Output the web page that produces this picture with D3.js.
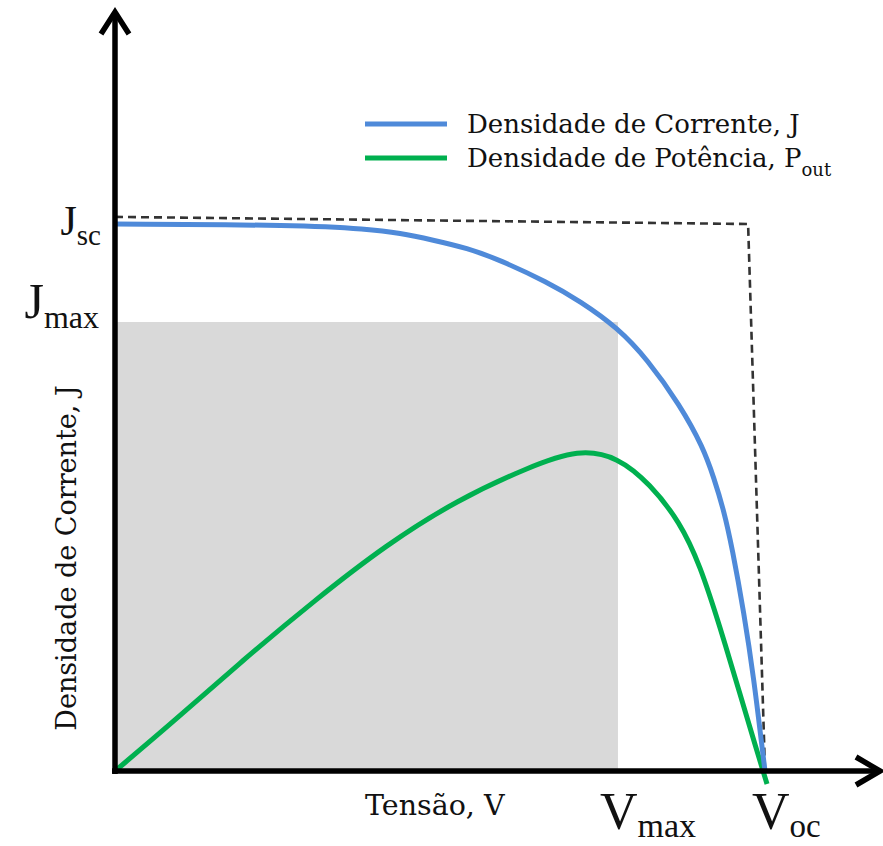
<!DOCTYPE html>
<html>
<head>
<meta charset="utf-8">
<script src="https://cdn.jsdelivr.net/npm/d3@7"></script>
<style>
  html, body { margin: 0; padding: 0; background: #fff; }
  svg { display: block; }
</style>
</head>
<body>
<div id="chart"></div>
<script>
// Curva J–V de uma célula solar (valores normalizados: Voc = 1, Jsc = 1)
const voltage = [0, 0.2846, 0.3877, 0.4385, 0.4892, 0.5415, 0.5923, 0.6646, 0.7154, 0.7738,
                 0.8185, 0.8692, 0.9046, 0.9215, 0.9369, 0.9492, 0.9677, 0.9831, 0.9954, 1.0];
const currentDensity = [1.0, 0.9982, 0.9909, 0.9835, 0.9707, 0.9561, 0.9342, 0.8940, 0.8592, 0.8099,
                        0.7532, 0.6691, 0.5923, 0.5356, 0.4753, 0.4095, 0.2888, 0.1664, 0.0439, 0];

// Curva de potência (mesma escala relativa)
const powerVoltage = [0, 0.0877, 0.1969, 0.3077, 0.4169, 0.5262, 0.6369, 0.7138, 0.7738,
                      0.8231, 0.8692, 0.9000, 0.9308, 0.9615, 0.9862, 1.0031];
const powerDensity = [0, 0.0878, 0.2029, 0.3126, 0.4132, 0.4954, 0.5558, 0.5887, 0.5740,
                      0.5247, 0.4552, 0.3766, 0.2633, 0.1408, 0.0420, -0.0238];

// Retângulo ideal (tracejado) Jsc × Voc
const idealVoltage = [0, 0.974, 1.0];
const idealCurrent = [1.013, 1.0, 0];

// Ponto de máxima potência e grandezas características
const vmax = 0.7738, jmax = 0.8208, voc = 1.0, jsc = 1.0;

const legendLabels = ["Densidade de Corrente, J", "Densidade de Potência, P"];
const legendSubs = ["", "out"];
const xAxisTitle = "Tensão, V";
const yAxisTitle = "Densidade de Corrente, J";

const W = 883, H = 846;
const blue = "#4f8ad9", green = "#00b04f";
const textFont = "'DejaVu Serif', serif";
const symFont = "'Liberation Serif', 'Times New Roman', serif";

const x = d3.scaleLinear().domain([0, 1]).range([115, 765]);
const y = d3.scaleLinear().domain([0, 1]).range([771, 224]);

const svg = d3.select("#chart").append("svg").attr("width", W).attr("height", H);

// área de potência máxima
svg.append("rect")
  .attr("x", x(0) + 2).attr("y", y(jmax))
  .attr("width", x(vmax) - x(0) - 2).attr("height", y(0) - y(jmax))
  .attr("fill", "#d9d9d9");

const straight = d3.line().x(d => x(d[0])).y(d => y(d[1]));
const smooth = d3.line().x(d => x(d[0])).y(d => y(d[1])).curve(d3.curveBasis);

svg.append("path")
  .attr("d", straight(d3.zip(idealVoltage, idealCurrent)))
  .attr("fill", "none").attr("stroke", "#333").attr("stroke-width", 2.6)
  .attr("stroke-dasharray", "8,5");

svg.append("path")
  .attr("d", smooth(d3.zip(powerVoltage, powerDensity)))
  .attr("fill", "none").attr("stroke", green).attr("stroke-width", 5);

svg.append("path")
  .attr("d", smooth(d3.zip(voltage, currentDensity)))
  .attr("fill", "none").attr("stroke", blue).attr("stroke-width", 5);

// eixos com setas
const axisG = svg.append("g").attr("stroke", "#000").attr("stroke-width", 5.5)
  .attr("fill", "none").attr("stroke-linecap", "butt");
const x0 = x(0), y0 = y(0), yTop = 12, xRight = 880;
axisG.append("path").attr("d", `M${x0},${y0 + 3}V${yTop}`);
axisG.append("path").attr("d", `M${x0 - 14},${yTop + 22}L${x0},${yTop}L${x0 + 14},${yTop + 22}`)
  .attr("stroke-linejoin", "miter");
axisG.append("path").attr("d", `M${x0 - 3},${y0}H${xRight}`);
axisG.append("path").attr("d", `M${xRight - 24},${y0 - 14}L${xRight},${y0}L${xRight - 24},${y0 + 14}`)
  .attr("stroke-linejoin", "miter");

// rótulos com subscrito
function symLabel(tx, ty, main, sub, mainSize, subSize, subDy, anchor) {
  const t = svg.append("text").attr("x", tx).attr("y", ty)
    .attr("font-family", symFont).attr("fill", "#111").attr("text-anchor", anchor);
  t.append("tspan").attr("font-size", mainSize).text(main);
  t.append("tspan").attr("font-size", subSize).attr("dy", subDy).text(sub);
  return t;
}
symLabel(101, y(jsc) + 11, "J", "sc", 42, 29, 10, "end");
symLabel(99, y(jmax) - 4, "J", "max", 50, 32, 10, "end");
symLabel(x(vmax) - 18, 829, "V", "max", 52, 34, 8, "start");
symLabel(x(voc) - 13, 829, "V", "oc", 52, 33, 8, "start");

// títulos dos eixos
svg.append("text").attr("x", 365).attr("y", 815)
  .attr("font-family", textFont).attr("font-size", 28.5).attr("fill", "#111")
  .text(xAxisTitle);
svg.append("text").attr("transform", "translate(76,558) rotate(-90)")
  .attr("text-anchor", "middle")
  .attr("font-family", textFont).attr("font-size", 27).attr("fill", "#111")
  .text(yAxisTitle);

// legenda
const legendColors = [blue, green];
const legend = svg.append("g");
legendLabels.forEach((lab, i) => {
  const ly = 124 + i * 34;
  legend.append("line").attr("x1", 365).attr("x2", 447).attr("y1", ly).attr("y2", ly)
    .attr("stroke", legendColors[i]).attr("stroke-width", 5);
  const t = legend.append("text").attr("x", 467).attr("y", ly + 9)
    .attr("font-family", textFont).attr("font-size", 26).attr("fill", "#111");
  t.append("tspan").text(lab);
  if (legendSubs[i]) t.append("tspan").attr("font-size", 18).attr("dy", 9).text(legendSubs[i]);
});
</script>
</body>
</html>
